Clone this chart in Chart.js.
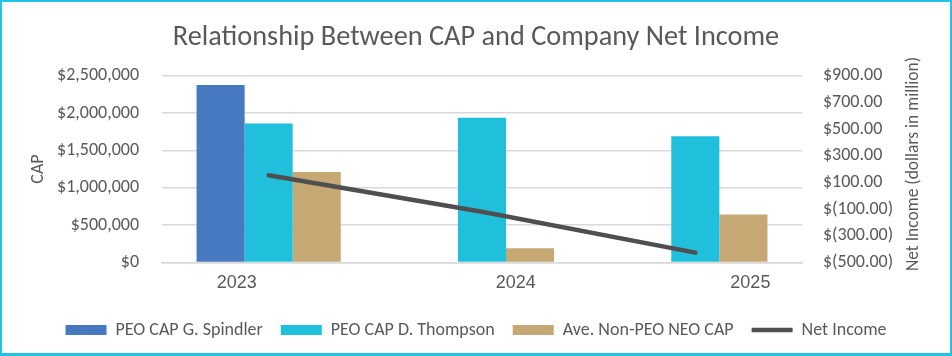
<!DOCTYPE html>
<html>
<head>
<meta charset="utf-8">
<script src="https://cdn.jsdelivr.net/npm/chart.js@4.4.1/dist/chart.umd.min.js"></script>
<style>
  html, body { margin: 0; padding: 0; background: #fff; }
  #wrap { position: relative; width: 952px; height: 356px; }
  #frame { position: absolute; left: 0; top: 0; width: 952px; height: 356px; box-sizing: border-box;
           border: 2px solid #22C3DF; border-bottom-width: 3px; pointer-events: none; }
  canvas { display: block; }
</style>
</head>
<body>
<div id="wrap">
  <canvas id="chart" width="952" height="356"></canvas>
  <div id="frame"></div>
</div>
<script>
// ---- data ----
const years = ['2023', '2024', '2025'];
const peoSpindler = [2375000, null, null];
const peoThompson = [1860000, 1935000, 1690000];
const nonPeoNeo = [1210000, 188000, 641000];
const netIncome = [154, -120, -427];
const capTickValues = [0, 500000, 1000000, 1500000, 2000000, 2500000];
const capTickLabels = ['$0', '$500,000', '$1,000,000', '$1,500,000', '$2,000,000', '$2,500,000'];
const niTickValues = [-500, -300, -100, 100, 300, 500, 700, 900];
const niTickLabels = ['$(500.00)', '$(300.00)', '$(100.00)', '$100.00', '$300.00', '$500.00', '$700.00', '$900.00'];
const rightAxisTitle = 'Net Income (dollars in million)';

// ---- style ----
const GRAY = '#595959';
const FONT = "Carlito, Calibri, Lato, sans-serif";
// the year labels in the original sit off-centre under their groups (fraction of a category)
const YEAR_LABEL_SHIFT = [-0.15, 0.158, 0.258];

// right axis title reads bottom-to-top (like the left one), so draw it rotated -90deg
const rightTitlePlugin = {
  id: 'rightTitle',
  afterDraw(chart) {
    const s = chart.scales.yNi;
    const ctx = chart.ctx;
    ctx.save();
    ctx.translate(s.right - 38, (s.top + s.bottom) / 2 - 5);
    ctx.rotate(-Math.PI / 2);
    ctx.fillStyle = GRAY;
    ctx.font = "17.5px " + FONT;
    ctx.textAlign = 'center';
    ctx.textBaseline = 'middle';
    ctx.fillText(rightAxisTitle, 0, 0);
    ctx.restore();
  }
};

new Chart(document.getElementById('chart'), {
  data: {
    labels: years,
    datasets: [
      { type: 'bar', label: 'PEO CAP G. Spindler', data: peoSpindler, backgroundColor: '#4679C0',
        yAxisID: 'yCap', order: 1, pointStyle: 'rect', borderWidth: 0 },
      { type: 'bar', label: 'PEO CAP D. Thompson', data: peoThompson, backgroundColor: '#20C0DC',
        yAxisID: 'yCap', order: 1, pointStyle: 'rect', borderWidth: 0 },
      { type: 'bar', label: 'Ave. Non-PEO NEO CAP', data: nonPeoNeo, backgroundColor: '#C5A874',
        yAxisID: 'yCap', order: 1, pointStyle: 'rect', borderWidth: 0 },
      { type: 'line', label: 'Net Income', data: netIncome, borderColor: '#4F4F52', backgroundColor: '#4F4F52',
        borderWidth: 4.5, borderCapStyle: 'round', borderJoinStyle: 'round', pointRadius: 0, pointHoverRadius: 0,
        pointStyle: 'line', tension: 0, yAxisID: 'yNi', order: 0 }
    ]
  },
  plugins: [rightTitlePlugin],
  options: {
    responsive: false,
    animation: false,
    events: [],
    layout: { padding: { left: 0, right: 0, top: 0, bottom: 7 } },
    datasets: { bar: { categoryPercentage: 0.676, barPercentage: 1.0 } },
    plugins: {
      tooltip: { enabled: false },
      title: {
        display: true, text: 'Relationship Between CAP and Company Net Income', color: GRAY,
        font: { family: FONT, size: 28.3, weight: 'normal' }, padding: { top: 20.5, bottom: 21.2 }
      },
      legend: {
        position: 'bottom', align: 'center',
        labels: {
          usePointStyle: true, pointStyleWidth: 41, boxHeight: 10, padding: 18, color: GRAY,
          font: { family: FONT, size: 18 },
          sort: (a, b) => a.datasetIndex - b.datasetIndex
        }
      }
    },
    scales: {
      x: {
        type: 'category',
        afterBuildTicks: (s) => { s.ticks = years.map((y, i) => ({ value: i + YEAR_LABEL_SHIFT[i] })); },
        grid: { display: false, drawTicks: false },
        border: { display: true, color: '#D9D9D9', width: 1.5 },
        ticks: { color: GRAY, font: { family: "'Liberation Sans', Arial, sans-serif", size: 18 }, padding: 10,
                 maxRotation: 0, autoSkip: false, callback: (v, i) => years[i] },
        afterFit: (s) => { s.height = 40.6; }
      },
      yCap: {
        type: 'linear', position: 'left', min: 0, max: 2500000,
        afterBuildTicks: (s) => { s.ticks = capTickValues.map(v => ({ value: v })); },
        grid: { color: '#D9D9D9', lineWidth: 1.5, drawTicks: false },
        border: { display: false },
        ticks: { color: GRAY, font: { family: FONT, size: 18 }, padding: 23,
                 callback: (v) => capTickLabels[capTickValues.indexOf(v)] },
        title: { display: true, text: 'CAP', color: GRAY, font: { family: FONT, size: 18 }, padding: { top: 28, bottom: 0 } },
        afterFit: (s) => { s.width = 162; }
      },
      yNi: {
        type: 'linear', position: 'right', min: -500, max: 900,
        afterBuildTicks: (s) => { s.ticks = niTickValues.map(v => ({ value: v })); },
        grid: { display: false, drawTicks: false },
        border: { display: false },
        ticks: { color: GRAY, font: { family: FONT, size: 18 }, padding: 21,
                 callback: (v) => niTickLabels[niTickValues.indexOf(v)] },
        title: { display: false },
        afterFit: (s) => { s.width = 150; }
      }
    }
  }
});
</script>
</body>
</html>
